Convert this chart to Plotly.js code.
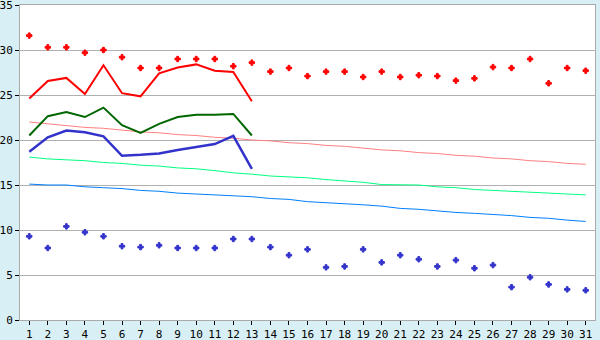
<!DOCTYPE html>
<html>
<head>
<meta charset="utf-8">
<script src="https://cdn.plot.ly/plotly-3.0.1.min.js"></script>
<style>html,body{margin:0;padding:0;background:#d9eff6;}#chart{width:600px;height:340px;}</style>
</head>
<body>
<div id="chart"></div>
<script>
const days = [1,2,3,4,5,6,7,8,9,10,11,12,13,14,15,16,17,18,19,20,21,22,23,24,25,26,27,28,29,30,31];
const yTicks = [0,5,10,15,20,25,30,35];
const recordMax = [31.6,30.3,30.3,29.7,30.0,29.2,28.0,28.0,29.0,29.0,29.0,28.2,28.6,27.6,28.0,27.1,27.6,27.6,27.0,27.6,27.0,27.2,27.1,26.6,26.85,28.1,28.0,29.0,26.3,28.0,27.7];
const recordMin = [9.3,8.0,10.4,9.75,9.3,8.2,8.1,8.3,8.0,8.0,8.0,9.0,9.0,8.1,7.2,7.85,5.85,5.95,7.85,6.4,7.2,6.75,5.95,6.65,5.75,6.1,3.65,4.75,3.95,3.4,3.3];
const curDays = [1,2,3,4,5,6,7,8,9,10,11,12,13];
const curMax = [24.6,26.55,26.9,25.1,28.3,25.2,24.85,27.4,28.05,28.4,27.7,27.55,24.3];
const curMean = [20.5,22.65,23.1,22.55,23.6,21.65,20.8,21.8,22.55,22.8,22.8,22.9,20.5];
const curMin = [18.7,20.3,21.05,20.85,20.4,18.25,18.35,18.5,18.9,19.2,19.55,20.45,16.8];
const normMax = [22.0,21.8,21.6,21.4,21.3,21.1,20.9,20.8,20.6,20.5,20.3,20.2,20.0,19.9,19.7,19.6,19.4,19.3,19.1,18.9,18.8,18.6,18.5,18.3,18.2,18.0,17.9,17.7,17.6,17.4,17.3];
const normMean = [18.1,17.9,17.8,17.7,17.5,17.4,17.2,17.1,16.9,16.8,16.6,16.35,16.2,16.0,15.9,15.8,15.6,15.45,15.3,15.05,15.0,15.0,14.8,14.7,14.5,14.4,14.3,14.15,14.1,14.0,13.9];
const normMin = [15.1,15.0,15.0,14.8,14.7,14.6,14.4,14.3,14.1,14.0,13.95,13.8,13.7,13.5,13.4,13.15,13.05,12.9,12.8,12.65,12.4,12.3,12.1,11.95,11.85,11.75,11.6,11.4,11.3,11.1,10.95];

const traces = [
  {x: days, y: normMax, mode: 'lines', line: {color: '#ff8080', width: 1}},
  {x: days, y: normMean, mode: 'lines', line: {color: '#00ff80', width: 1}},
  {x: days, y: normMin, mode: 'lines', line: {color: '#0080ff', width: 1}},
  {x: curDays, y: curMax, mode: 'lines', line: {color: '#ff0000', width: 2}},
  {x: curDays, y: curMean, mode: 'lines', line: {color: '#006600', width: 2}},
  {x: curDays, y: curMin, mode: 'lines', line: {color: '#3333cc', width: 2.5}},
  {x: days, y: recordMax, mode: 'markers', marker: {symbol: 'cross', size: 4.5, color: '#ff0000', line: {width: 1, color: '#ff0000'}}},
  {x: days, y: recordMin, mode: 'markers', marker: {symbol: 'cross', size: 4.5, color: '#3333cc', line: {width: 1, color: '#3333cc'}}}
];

const layout = {
  width: 600, height: 340,
  margin: {l: 20, r: 5, t: 5, b: 20},
  paper_bgcolor: '#d9eff6',
  plot_bgcolor: '#ffffff',
  showlegend: false,
  font: {family: 'DejaVu Sans Mono, monospace', size: 11, color: '#000'},
  xaxis: {
    range: [0.5, 31.5], tickmode: 'array', tickvals: days, ticktext: days.map(String),
    ticks: 'outside', ticklen: 4, tickcolor: '#000', showgrid: false, zeroline: false,
    showline: true, linecolor: '#aaaaaa', mirror: true, tickfont: {size: 11}
  },
  yaxis: {
    range: [0, 35], tickmode: 'array', tickvals: yTicks, ticktext: yTicks.map(String),
    ticks: 'outside', ticklen: 4, tickcolor: '#000', ticklabeloverflow: 'allow',
    showgrid: true, gridcolor: '#b0b0b0', zeroline: false,
    showline: true, linecolor: '#aaaaaa', mirror: true, tickfont: {size: 11}
  }
};

Plotly.newPlot('chart', traces, layout, {displayModeBar: false, staticPlot: true});
</script>
</body>
</html>
